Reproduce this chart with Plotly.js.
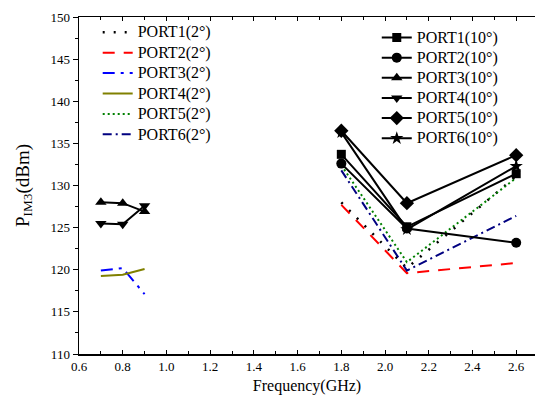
<!DOCTYPE html>
<html>
<head>
<meta charset="utf-8">
<script src="https://cdn.plot.ly/plotly-3.0.1.min.js"></script>
<style>html,body{margin:0;padding:0;background:#fff;}#chart{width:535px;height:406px;}</style>
</head>
<body>
<div id="chart"></div>
<script>
// Frequencies (GHz)
const freqLow = [0.7, 0.8, 0.9];
const freqHigh = [1.8, 2.1, 2.6];

// 2 degree series
const port1_2 = [128.0, 120.2, 131.1];   // on freqHigh
const port2_2 = [127.7, 119.6, 120.8];   // on freqHigh
const port3_2 = [119.9, 120.2, 117.1];   // on freqLow
const port4_2 = [119.25, 119.4, 120.1];  // on freqLow
const port5_2 = [132.4, 120.9, 130.9];   // on freqHigh
const port6_2 = [131.8, 119.9, 126.4];   // on freqHigh

// 10 degree series
const port1_10 = [133.7, 125.1, 131.4];  // on freqHigh
const port2_10 = [132.6, 124.9, 123.2];  // on freqHigh
const port3_10 = [128.0, 127.9, 126.9];  // on freqLow
const port4_10 = [125.5, 125.4, 127.6];  // on freqLow
const port5_10 = [136.5, 127.9, 133.6];  // on freqHigh
const port6_10 = [136.3, 124.8, 132.3];  // on freqHigh

const names2 = ['PORT1(2°)','PORT2(2°)','PORT3(2°)','PORT4(2°)','PORT5(2°)','PORT6(2°)'];
const names10 = ['PORT1(10°)','PORT2(10°)','PORT3(10°)','PORT4(10°)','PORT5(10°)','PORT6(10°)'];

const big = s => '<span style="font-size:16px">' + s + '</span>';

const lw = 2;
const traces = [
  {x: freqHigh, y: port1_2, name: names2[0], line: {color: '#000000', width: 2.5, dash: '2px,9px'}},
  {x: freqHigh, y: port2_2, name: names2[1], line: {color: '#FF0000', width: lw, dash: '12px,9px'}},
  {x: freqLow,  y: port3_2, name: names2[2], line: {color: '#0000FF', width: lw, dash: '12px,6px,3px,6px'}},
  {x: freqLow,  y: port4_2, name: names2[3], line: {color: '#808000', width: lw}},
  {x: freqHigh, y: port5_2, name: names2[4], line: {color: '#008000', width: lw, dash: '2px,3px'}},
  {x: freqHigh, y: port6_2, name: names2[5], line: {color: '#000080', width: lw, dash: '9px,4px,2px,4px'}}
].map(t => Object.assign({type: 'scatter', mode: 'lines', legend: 'legend'}, t, {name: big(t.name)}));

const syms = ['square','circle','triangle-up','triangle-down','diamond','star'];
const data10 = [port1_10, port2_10, port3_10, port4_10, port5_10, port6_10];
const xs10 = [freqHigh, freqHigh, freqLow, freqLow, freqHigh, freqHigh];
const sizes = [9, 10, 10, 10, 11, 10];
const traces10 = data10.map((v, i) => ({
  type: 'scatter', mode: 'lines+markers', x: xs10[i], y: v, name: big(names10[i]),
  legend: 'legend2',
  line: {color: '#000000', width: lw},
  marker: {symbol: syms[i], size: sizes[i], color: '#000000'}
}));

const fam = 'Liberation Serif';
const font = {family: fam, color: '#000000'};

const layout = {
  width: 535, height: 406,
  margin: {l: 79, r: 0, t: 17, b: 52},
  paper_bgcolor: '#ffffff', plot_bgcolor: '#ffffff',
  font: Object.assign({size: 13}, font),
  showlegend: true,
  xaxis: {
    range: [0.6, 2.686], dtick: 0.2, tick0: 0.6, tickformat: '.1f',
    ticks: 'inside', ticklen: 4, tickwidth: 1, tickcolor: '#000',
    minor: {dtick: 0.1, ticks: 'inside', ticklen: 3, tickcolor: '#000'},
    showline: true, linecolor: '#000', linewidth: 1.5, mirror: 'ticks',
    showgrid: false, zeroline: false,
    tickfont: Object.assign({size: 13}, font),
    title: {text: 'Frequency(GHz)', font: Object.assign({size: 16}, font), standoff: 6}
  },
  yaxis: {
    range: [110, 150], dtick: 5, tick0: 110,
    ticks: 'outside', ticklen: 5, tickwidth: 1, tickcolor: '#000',
    minor: {dtick: 2.5, ticks: 'outside', ticklen: 3, tickcolor: '#000'},
    showline: true, linecolor: '#000', linewidth: 1.5,
    showgrid: false, zeroline: false,
    tickfont: Object.assign({size: 13}, font),
    title: {text: 'P<sub>IM3</sub>(dBm)', font: Object.assign({size: 19}, font), standoff: 16}
  },
  legend: {
    x: 0.041, y: 1.0, xanchor: 'left', yanchor: 'top',
    bgcolor: 'rgba(0,0,0,0)', borderwidth: 0,
    font: Object.assign({size: 13.4}, font), tracegroupgap: 0
  },
  legend2: {
    x: 0.653, y: 0.984, xanchor: 'left', yanchor: 'top',
    bgcolor: 'rgba(0,0,0,0)', borderwidth: 0,
    font: Object.assign({size: 13.2}, font), tracegroupgap: 0
  }
};

Plotly.newPlot('chart', traces.concat(traces10), layout, {displayModeBar: false, staticPlot: true});
</script>
</body>
</html>
